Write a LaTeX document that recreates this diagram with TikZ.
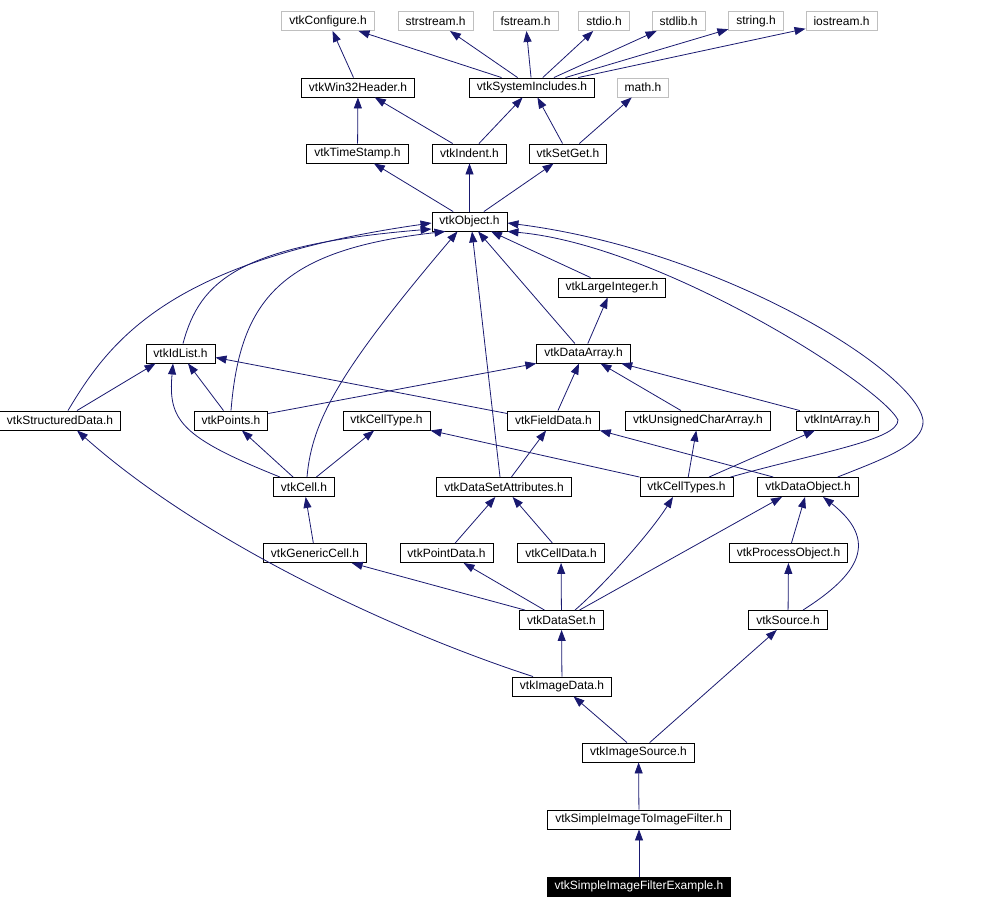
\documentclass[tikz,border=0pt]{standalone}
\usepackage{fontspec}
\setmainfont{Liberation Sans}
\usetikzlibrary{arrows.meta}
\definecolor{linkblue}{HTML}{191970}
\definecolor{ghost}{HTML}{BFBFBF}

\begin{document}
\begin{tikzpicture}[x=1pt, y=-1pt,
      hdr/.style={draw=black, fill=white, line width=0.9pt, minimum height=19pt, inner xsep=7.5pt,
                  inner ysep=0pt, font=\fontsize{12}{14}\selectfont},
      sys/.style={hdr, draw=ghost},
      focus/.style={hdr, fill=black, text=white},
      dep/.style={-{Triangle[length=11pt, width=8pt]}, linkblue, line width=0.8pt}]
    \useasboundingbox (0,0) rectangle (984,909);
    \node[sys] (conf) at (328,21) {vtkConfigure.h};
    \node[sys] (strs) at (435.5,21) {strstream.h};
    \node[sys] (fstr) at (525.5,21) {fstream.h};
    \node[sys] (stdio) at (604,21) {stdio.h};
    \node[sys] (stdlib) at (678.5,21) {stdlib.h};
    \node[sys] (str) at (756,21) {string.h};
    \node[sys] (iostr) at (841.5,21) {iostream.h};
    \node[hdr] (win) at (358,87.5) {vtkWin32Header.h};
    \node[hdr] (sysinc) at (532,87.5) {vtkSystemIncludes.h};
    \node[sys] (mth) at (643,87.5) {math.h};
    \node[hdr] (tstamp) at (357.5,153.5) {vtkTimeStamp.h};
    \node[hdr] (indent) at (469.5,153.5) {vtkIndent.h};
    \node[hdr] (setget) at (568,153.5) {vtkSetGet.h};
    \node[hdr] (obj) at (469.5,221.5) {vtkObject.h};
    \node[hdr] (lint) at (612,287.5) {vtkLargeInteger.h};
    \node[hdr] (idl) at (180.5,353.5) {vtkIdList.h};
    \node[hdr] (darr) at (583.5,353.5) {vtkDataArray.h};
    \node[hdr] (sdata) at (60,420.5) {vtkStructuredData.h};
    \node[hdr] (pts) at (231,420.5) {vtkPoints.h};
    \node[hdr] (ctype) at (386.5,420.5) {vtkCellType.h};
    \node[hdr] (fdata) at (553.5,420.5) {vtkFieldData.h};
    \node[hdr] (uchar) at (698,420.5) {vtkUnsignedCharArray.h};
    \node[hdr] (iarr) at (837.5,420.5) {vtkIntArray.h};
    \node[hdr] (cell) at (304,487) {vtkCell.h};
    \node[hdr] (dsattr) at (504,487) {vtkDataSetAttributes.h};
    \node[hdr] (ctypes) at (686.5,487) {vtkCellTypes.h};
    \node[hdr] (dobj) at (808,487) {vtkDataObject.h};
    \node[hdr] (gcell) at (315,553) {vtkGenericCell.h};
    \node[hdr] (pdata) at (446.5,553) {vtkPointData.h};
    \node[hdr] (cdata) at (561,553) {vtkCellData.h};
    \node[hdr] (pobj) at (788.5,553) {vtkProcessObject.h};
    \node[hdr] (dset) at (561.5,620) {vtkDataSet.h};
    \node[hdr] (src) at (788,620) {vtkSource.h};
    \node[hdr] (idata) at (562,686.5) {vtkImageData.h};
    \node[hdr] (isrc) at (638.5,752.5) {vtkImageSource.h};
    \node[hdr] (sfilt) at (639,819.5) {vtkSimpleImageToImageFilter.h};
    \node[focus] (ex) at (639,886.5) {vtkSimpleImageFilterExample.h};
    \draw[dep] (win) -- (conf); \draw[dep] (sysinc) -- (conf); \draw[dep] (sysinc) -- (strs);
    \draw[dep] (sysinc) -- (fstr); \draw[dep] (sysinc) -- (stdio); \draw[dep] (sysinc) -- (stdlib);
    \draw[dep] (sysinc) -- (str); \draw[dep] (sysinc) -- (iostr);
    \draw[dep] (tstamp) -- (win); \draw[dep] (indent) -- (win); \draw[dep] (indent) -- (sysinc);
    \draw[dep] (setget) -- (sysinc); \draw[dep] (setget) -- (mth);
    \draw[dep] (obj) -- (tstamp); \draw[dep] (obj) -- (indent); \draw[dep] (obj) -- (setget);
    \draw[dep] (lint) -- (obj); \draw[dep] (darr) -- (obj);
    \draw[dep] ([xshift=-4pt]dsattr.north) -- ([xshift=2.5pt]obj.south);
    \draw[dep] ([xshift=3pt]cell.north) .. controls (312,420) and (340,370) .. ([xshift=-12pt]obj.south);
    \draw[dep] (pts.north) .. controls (240,300) and (280,250) .. ([xshift=-24pt]obj.south);
    \draw[dep] ([xshift=2.5pt]idl.north) .. controls (200,280) and (240,245) .. ([yshift=-7.5pt]obj.west);
    \draw[dep] ([xshift=8pt]sdata.north) .. controls (110,340) and (170,260) .. ([yshift=-1.5pt]obj.west);
    \draw[dep] ([xshift=-3pt]ctypes.north east) .. controls (820,452) and (898,440) .. (898,420)
      .. controls (880,385) and (660,245) .. (obj.south east);
    \draw[dep] ([xshift=-21pt]dobj.north east) .. controls (880,460) and (925,445) .. (923,420)
      .. controls (915,370) and (720,250) .. ([yshift=-1.5pt]obj.east);
    \draw[dep] (darr) -- (lint);
    \draw[dep] ([xshift=17pt]sdata.north) -- ([xshift=-25pt]idl.south);
    \draw[dep] (pts) -- (idl);
    \draw[dep] ([xshift=7pt]cell.north west) .. controls (180,437) and (168,420) .. ([xshift=-7.5pt]idl.south);
    \draw[dep] (cell) -- (pts); \draw[dep] (cell) -- (ctype);
    \draw[dep] ([yshift=7pt]pts.east) -- (darr.south west);
    \draw[dep] ([yshift=7pt]fdata.west) -- ([yshift=-4pt]idl.east);
    \draw[dep] (fdata) -- (darr); \draw[dep] (uchar) -- (darr); \draw[dep] (iarr) -- (darr);
    \draw[dep] (ctypes.north west) -- (ctype.south east);
    \draw[dep] (ctypes) -- (uchar); \draw[dep] (ctypes) -- (iarr);
    \draw[dep] ([xshift=16pt]dobj.north west) -- (fdata.south east);
    \draw[dep] (dsattr) -- (fdata);
    \draw[dep] (gcell) -- (cell); \draw[dep] (pdata) -- (dsattr); \draw[dep] (cdata) -- (dsattr);
    \draw[dep] (dset) -- (gcell); \draw[dep] (dset) -- (pdata); \draw[dep] (dset) -- (cdata);
    \draw[dep] ([xshift=13.5pt]dset.north) .. controls (605,584) and (651,532) .. ([xshift=-13.5pt]ctypes.south);
    \draw[dep] ([xshift=18pt]dset.north) -- ([xshift=-26pt]dobj.south);
    \draw[dep] (pobj) -- (dobj); \draw[dep] (src) -- (pobj);
    \draw[dep] ([xshift=15pt]src.north) .. controls (850,580) and (885,545) .. ([xshift=15pt]dobj.south);
    \draw[dep] (idata) -- (dset);
    \draw[dep] ([xshift=-29pt]idata.north) .. controls (390,630) and (200,540) .. ([xshift=17pt]sdata.south);
    \draw[dep] (isrc) -- (idata); \draw[dep] (isrc) -- (src);
    \draw[dep] (sfilt) -- (isrc); \draw[dep] (ex) -- (sfilt);
  \end{tikzpicture}
\end{document}
